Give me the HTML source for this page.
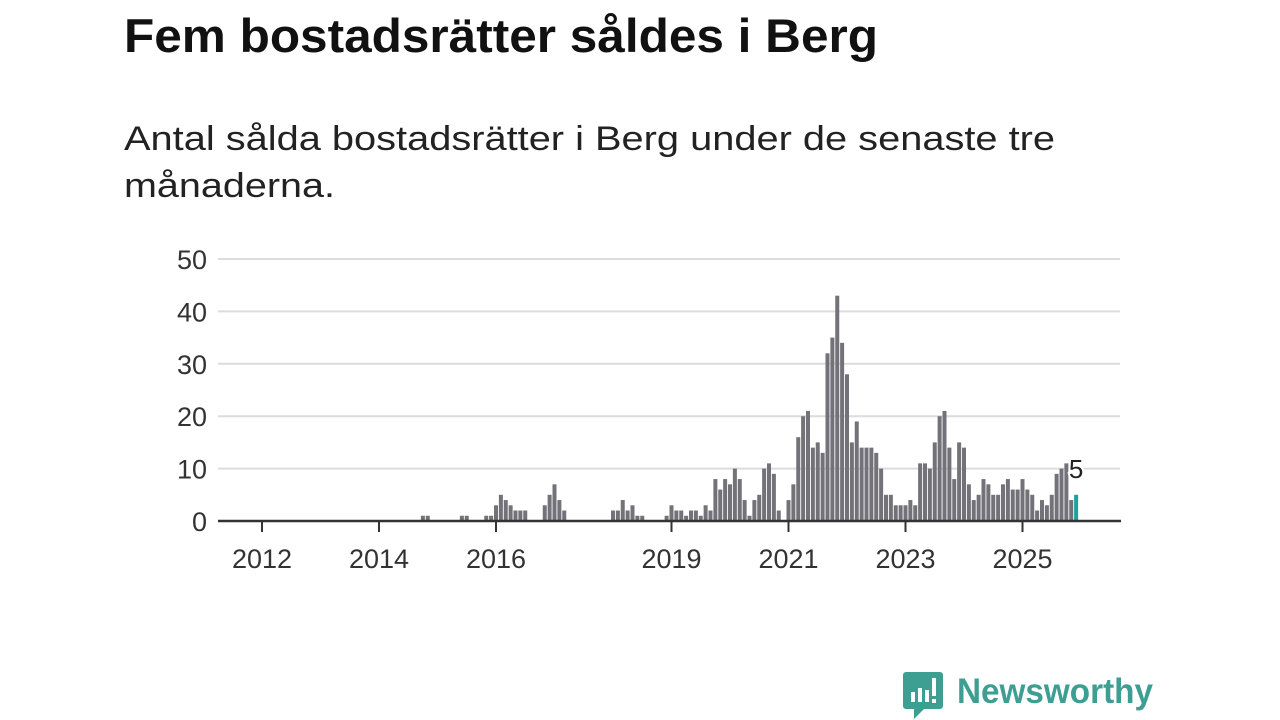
<!DOCTYPE html>
<html><head><meta charset="utf-8"><style>
html,body{margin:0;padding:0;background:#fff;width:1280px;height:720px;overflow:hidden}
svg{display:block;font-family:"Liberation Sans",sans-serif}
</style></head><body>
<svg id="chart" width="1280" height="720" viewBox="0 0 1280 720">
<text x="124" y="52" font-size="47" font-weight="bold" fill="#111" textLength="754" lengthAdjust="spacingAndGlyphs">Fem bostadsrätter såldes i Berg</text>
<text x="124" y="150" font-size="34" fill="#222" textLength="931" lengthAdjust="spacingAndGlyphs">Antal sålda bostadsrätter i Berg under de senaste tre</text>
<text x="124" y="197" font-size="34" fill="#222" textLength="211" lengthAdjust="spacingAndGlyphs">månaderna.</text>
<g id="grid"></g><g id="bars"></g><g id="axes"></g>
<g>
<path d="M906 672 h34 a3 3 0 0 1 3 3 v31 a3 3 0 0 1 -3 3 h-16 l-10 10 v-10 h-8 a3 3 0 0 1 -3 -3 v-31 a3 3 0 0 1 3 -3z" fill="#3d9e92"/>
<rect x="911" y="692" width="4" height="10" fill="#fff"/><rect x="918" y="688" width="4" height="14" fill="#fff"/><rect x="925" y="690" width="4" height="12" fill="#fff"/><rect x="932" y="678" width="4" height="18" fill="#fff"/><rect x="932" y="699" width="4" height="4" fill="#fff"/>
<text x="957" y="703" font-size="35" font-weight="bold" fill="#3d9e92" textLength="196" lengthAdjust="spacingAndGlyphs">Newsworthy</text>
</g>
</svg>
<script>
const startYear = 2012;
const values = [
0,0,0,0,0,0,0,0,0,0,0,0,
0,0,0,0,0,0,0,0,0,0,0,0,
0,0,0,0,0,0,0,0,0,1,1,0,
0,0,0,0,0,1,1,0,0,0,1,1,
3,5,4,3,2,2,2,0,0,0,3,5,
7,4,2,0,0,0,0,0,0,0,0,0,
2,2,4,2,3,1,1,0,0,0,0,1,
3,2,2,1,2,2,1,3,2,8,6,8,
7,10,8,4,1,4,5,10,11,9,2,0,
4,7,16,20,21,14,15,13,32,35,43,34,
28,15,19,14,14,14,13,10,5,5,3,3,
3,4,3,11,11,10,15,20,21,14,8,15,
14,7,4,5,8,7,5,5,7,8,6,6,
8,6,5,2,4,3,5,9,10,11,4,5
];
const yTicks = [0,10,20,30,40,50];
const xTickYears = [2012,2014,2016,2019,2021,2023,2025];
const NS='http://www.w3.org/2000/svg';
const x0=262, mw=4.875, y0=521, pu=5.24;
const X=i=>x0+i*mw;
const Y=v=>y0-v*pu;
function mk(t,a,p){const e=document.createElementNS(NS,t);for(const k in a)e.setAttribute(k,a[k]);p.appendChild(e);return e;}
const grid=document.getElementById('grid'),bars=document.getElementById('bars'),axes=document.getElementById('axes');
yTicks.forEach(v=>{
  if(v>0){const l=mk('line',{x1:218,x2:1120,y1:Y(v),y2:Y(v),stroke:'#dcdcdc','stroke-width':2},grid);
  
  }
  const t=mk('text',{x:207,y:Y(v)+10,'text-anchor':'end','font-size':27,fill:'#333'},grid);
  t.textContent=v;
  
  
});
const last=values.length-1;
values.forEach((v,i)=>{
  if(v<=0)return;
  const r=mk('rect',{x:X(i)-2,y:Y(v),width:4,height:v*pu,fill:i===last?'#1aa39a':'#737278'},bars);
  
  
});
const lbl=mk('text',{x:X(last),y:Y(values[last])-17,'text-anchor':'middle','font-size':26,fill:'#222',stroke:'#fff','stroke-width':4,'paint-order':'stroke'},bars);
lbl.textContent=values[last];


const ax=mk('line',{x1:218,x2:1121,y1:y0,y2:y0,stroke:'#333','stroke-width':2.5},axes);


xTickYears.forEach(yr=>{
  const xi=X((yr-startYear)*12);
  const tk=mk('line',{x1:xi,x2:xi,y1:y0,y2:y0+11,stroke:'#333','stroke-width':2},axes);
  
  
  const t=mk('text',{x:xi,y:568,'text-anchor':'middle','font-size':27,fill:'#333'},axes);
  t.textContent=yr;
  
  
});
</script>
</body></html>
